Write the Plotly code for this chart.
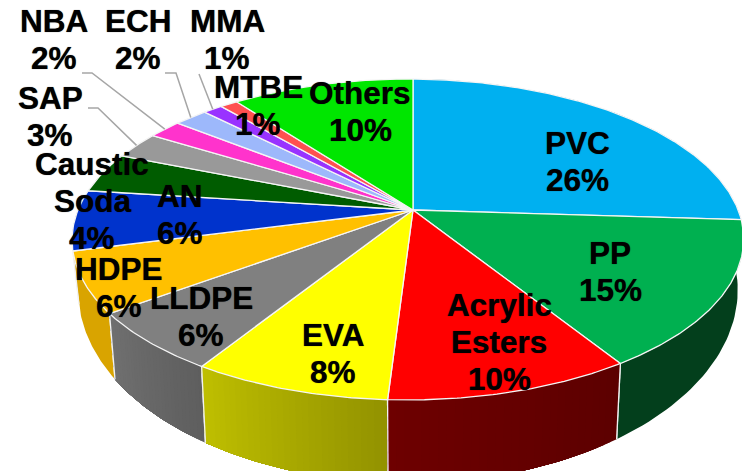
import math
import plotly.graph_objects as go

# ---- data ----
names = ["PVC", "PP", "Acrylic\nEsters", "EVA", "LLDPE", "HDPE", "AN",
         "Caustic\nSoda", "SAP", "NBA", "ECH", "MMA", "MTBE", "Others"]
percent_labels = [26, 15, 10, 8, 6, 6, 6, 4, 3, 2, 2, 1, 1, 10]
values = [26, 15, 10, 8, 6, 6, 6, 4, 2.7, 1.9, 1.9, 1.1, 1.0, 10.4]
top_colors = ["#00B0F0", "#00B050", "#FF0000", "#FFFF00", "#808080", "#FFC000", "#0033CC",
              "#005C00", "#999999", "#FF33CC", "#9DB8FB", "#9933FF", "#FF5050", "#00E600"]
wall_start = ["#004F6E", "#033F1C", "#5C0000", "#929200", "#5E5E5E", "#D9A400", "#001A66",
              "#003000", "#4D4D4D", "#80196A", "#4F5C80", "#4D1980", "#802828", "#007300"]
wall_end = ["#004F6E", "#033F1C", "#6E0000", "#BFBF00", "#707070", "#D9A400", "#001A66",
            "#003000", "#4D4D4D", "#80196A", "#4F5C80", "#4D1980", "#802828", "#007300"]

# label centre per slice (x, y of first line), pixel layout
label_x = [577, 610, 499, 333, 201, 119, 180, 92, 50, 54, 138, 227, 258, 360]
label_y = [142.5, 252.5, 304.5, 334.5, 297.5, 268.5, 195.5, 163.5, 97.5, 20.5, 20.5, 20.5, 86.5, 92.5]
line_gap = 37

# ---- projection of the disc ----
CX, CY, A, B, K, M = 413.0, 210.0, 330.0, 155.0, 0.184, 0.015
LOW_SX, LOW_Y0, LOW_SY = 0.982, 255.0, 1.2


def top(theta):
    sx, cy = math.sin(theta), math.cos(theta)
    d = 1 + K * cy + M * sx
    return CX + A * sx / d, CY - B * cy / d


def low(theta):
    x, y = top(theta)
    return CX + LOW_SX * (x - CX), LOW_Y0 + LOW_SY * (y - CY)


def arc(t0, t1, n=None):
    n = n or max(2, int(abs(t1 - t0) / 0.01))
    return [t0 + (t1 - t0) * i / n for i in range(n + 1)]


def mix(c0, c1, f):
    a = [int(c0[i:i + 2], 16) for i in (1, 3, 5)]
    b = [int(c1[i:i + 2], 16) for i in (1, 3, 5)]
    return "#%02X%02X%02X" % tuple(round(p + (q - p) * f) for p, q in zip(a, b))


total = sum(values)
edges = [0]
for v in values:
    edges.append(edges[-1] + v)
angles = [2 * math.pi * e / total for e in edges]

fig = go.Figure()

# side walls: back to front; each gradient band runs on to the slice end, so no seams show
order = sorted(range(len(values)),
               key=lambda i: -abs((angles[i] + angles[i + 1]) / 2 - math.pi))
for i in order:
    t0, t1 = angles[i], angles[i + 1]
    if t0 > 1.6 * math.pi or t1 < 0.4 * math.pi:
        continue
    strips = 1 if wall_start[i] == wall_end[i] else 30
    ts = arc(t0, t1, strips)
    for s in range(strips):
        sub = arc(ts[s], t1, 40)
        pts_top = [top(t) for t in sub]
        pts_low = [low(t) for t in reversed(sub)]
        pts = pts_top + pts_low + pts_top[:1]
        col = mix(wall_start[i], wall_end[i], (s + 0.5) / strips)
        fig.add_trace(go.Scatter(x=[p[0] for p in pts], y=[p[1] for p in pts], mode="lines",
                                 fill="toself", fillcolor=col, line=dict(width=0),
                                 hoverinfo="skip", showlegend=False))
    for t in (t0, t1):
        a, b = top(t), low(t)
        fig.add_trace(go.Scatter(x=[a[0], b[0]], y=[a[1], b[1]], mode="lines",
                                 line=dict(color="#F2F2F2", width=1.3),
                                 hoverinfo="skip", showlegend=False))

# top faces
for i in range(len(values)):
    pts = [(CX, CY)] + [top(t) for t in arc(angles[i], angles[i + 1])] + [(CX, CY)]
    fig.add_trace(go.Scatter(x=[p[0] for p in pts], y=[p[1] for p in pts], mode="lines",
                             fill="toself", fillcolor=top_colors[i],
                             line=dict(color="#F5F5F5", width=1.3),
                             hoverinfo="skip", showlegend=False, name=names[i].replace("\n", " ")))

# leader lines
leaders = {"SAP": [(88, 108), (98, 108)], "NBA": [(82, 73), (92, 73)],
           "ECH": [(165, 73), (176, 73)], "MMA": [(199, 74)]}
flat = [n.replace("\n", " ") for n in names]
for key, start in leaders.items():
    i = flat.index(key)
    end = top((angles[i] + angles[i + 1]) / 2)
    xs = [p[0] for p in start] + [end[0]]
    ys = [p[1] for p in start] + [end[1]]
    fig.add_trace(go.Scatter(x=xs, y=ys, mode="lines", line=dict(color="#A6A6A6", width=1.5),
                             hoverinfo="skip", showlegend=False))

# labels: one annotation per text line for the tight line spacing
for i, n in enumerate(names):
    lines = n.split("\n") + [f"{percent_labels[i]}%"]
    for j, txt in enumerate(lines):
        fig.add_annotation(x=label_x[i], y=label_y[i] + j * line_gap, text=txt, showarrow=False,
                           xanchor="center", yanchor="middle", xref="x", yref="y",
                           font=dict(family="Liberation Sans", size=31.5, color="black", weight="bold",
                                     shadow="0 0 0.8px rgba(0,0,0,0.8)"))

fig.update_xaxes(range=[0, 742], visible=False, fixedrange=True)
fig.update_yaxes(range=[471, 0], visible=False, fixedrange=True)
fig.update_layout(width=742, height=471, margin=dict(l=0, r=0, t=0, b=0),
                  paper_bgcolor="white", plot_bgcolor="white", showlegend=False)
fig.write_html("out.html", config={"displayModeBar": False},
               post_script="document.body.style.margin='0';")
